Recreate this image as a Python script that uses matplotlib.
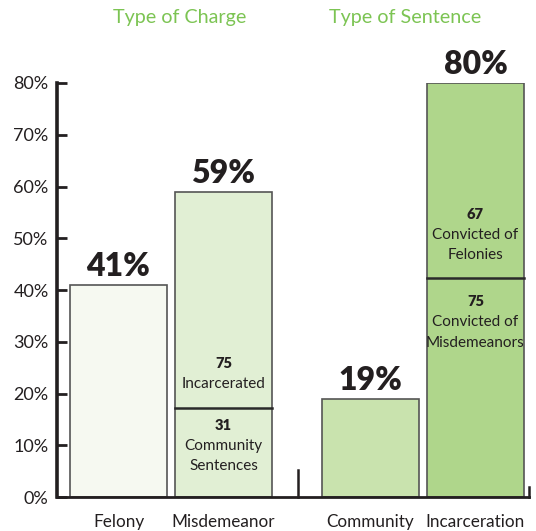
import matplotlib
matplotlib.use("Agg")
from matplotlib import pyplot as plt

plt.rcParams['font.family'] = ['Lato', 'DejaVu Sans']

# data
categories = ["Felony", "Misdemeanor", "Community", "Incarceration"]
percents = [41, 59, 19, 80]
group_titles = ["Type of Charge", "Type of Sentence"]
yticks = [0, 10, 20, 30, 40, 50, 60, 70, 80]

# counts shown inside the stacked bars (lower part, upper part)
misd_counts = [31, 75]
misd_labels = [["Community", "Sentences"], ["Incarcerated"]]
incar_counts = [75, 67]
incar_labels = [["Convicted of", "Misdemeanors"], ["Convicted of", "Felonies"]]

colors = ["#f6f9f1", "#e1efd4", "#c9e3ae", "#afd68b"]
edge = "#555555"
title_green = "#7cc453"
ink = "#231f20"

xpos = [0, 1, 2.4, 3.4]
width = 0.924

fig = plt.figure(figsize=(5.36, 5.31), dpi=100)
ax = fig.add_axes([0.1063, 0.064, 0.8807, 0.7797])

ax.bar(xpos, percents, width=width, color=colors, edgecolor=edge, linewidth=1.2, zorder=2)

# split lines inside the two stacked bars
splits = {}
for idx, counts in ((1, misd_counts), (3, incar_counts)):
    s = percents[idx] * counts[0] / sum(counts)
    splits[idx] = s
    ax.plot([xpos[idx] - width / 2, xpos[idx] + width / 2], [s, s], color="#2a2a2a", lw=1.8, zorder=3)

# percent labels over bars
for x, p in zip(xpos, percents):
    ax.annotate(f"{p}%", (x, p), xytext=(0, 3), textcoords="offset points",
                ha="center", va="bottom", fontsize=23, fontweight="heavy", color=ink)

def seg_text(x, y, count, lines, dy):
    # count in bold, then label lines below it
    ax.annotate(str(count), (x, y), xytext=(0, dy), textcoords="offset points",
                ha="center", va="center", fontsize=10.5, fontweight="heavy", color=ink)
    for k, line in enumerate(lines):
        ax.annotate(line, (x, y), xytext=(0, dy - 14.6 * (k + 1)), textcoords="offset points",
                    ha="center", va="center", fontsize=11, color=ink)

s = splits[1]
seg_text(xpos[1], s, misd_counts[0], misd_labels[0], -13)
seg_text(xpos[1], s, misd_counts[1], misd_labels[1], 31.7)
s = splits[3]
seg_text(xpos[3], s, incar_counts[0], incar_labels[0], -17)
seg_text(xpos[3], s, incar_counts[1], incar_labels[1], 46)

ax.set_xlim(-0.586, 3.91)
ax.set_ylim(0, 80)
ax.set_yticks(yticks)
ax.set_yticklabels([f"{t}%" for t in yticks], fontsize=13, color=ink)
ax.set_xticks(xpos)
ax.set_xticklabels(categories, fontsize=12.3, color=ink)
ax.tick_params(axis="x", length=0, pad=12)
ax.tick_params(axis="y", direction="in", length=7, width=2, color=ink, pad=6)

for side in ("top", "right"):
    ax.spines[side].set_visible(False)
ax.spines["left"].set_linewidth(2.6)
ax.spines["left"].set_color(ink)
ax.spines["bottom"].set_linewidth(2)
ax.spines["bottom"].set_color(ink)

# group divider tick and right end tick
ax.plot([1.71, 1.71], [0, 5.2], color=ink, lw=1.8, clip_on=False)
ax.plot([3.905, 3.905], [0, 2], color=ink, lw=1.8, clip_on=False)

# group titles
fig.text(180 / 536, 1 - 18 / 531, group_titles[0], ha="center", va="center", fontsize=14.2, color=title_green)
fig.text(405 / 536, 1 - 18 / 531, group_titles[1], ha="center", va="center", fontsize=14.2, color=title_green)

fig.savefig("out.png", dpi=100)
